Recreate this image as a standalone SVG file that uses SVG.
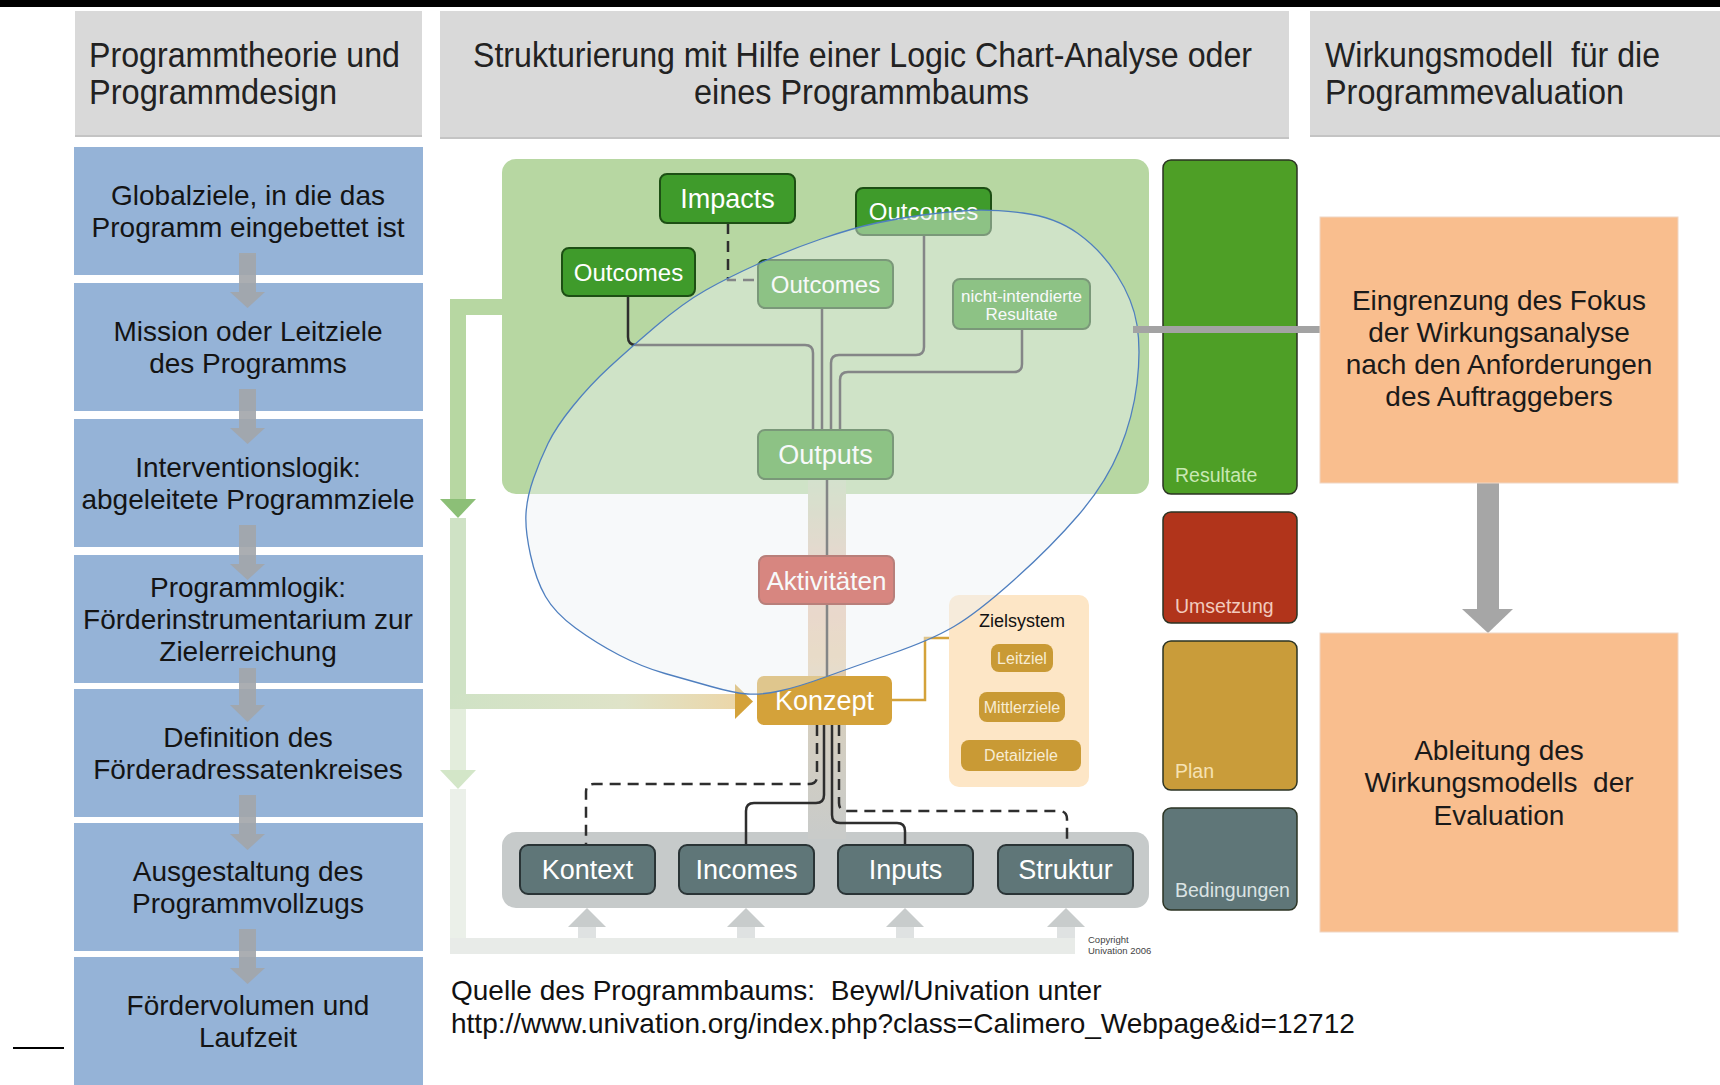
<svg xmlns="http://www.w3.org/2000/svg" width="1720" height="1085" viewBox="0 0 1720 1085">
<defs>
<style>
text { font-family: "Liberation Sans", Arial, sans-serif; }
.hdr { fill: #d9d9d9; }
.hdrt { font-size: 35px; fill: #222; }
.blue { fill: #95b3d7; }
.bt { font-size: 28px; fill: #141414; text-anchor: middle; }
.garr { fill: #a3a6aa; }
.dg { fill: #3f9b2b; stroke: #1d4f14; stroke-width: 2; }
.nt { fill: #ffffff; text-anchor: middle; }
.slate { fill: #5f7678; stroke: #2a3436; stroke-width: 2; }
.ln { fill: none; stroke: #2e2e2e; stroke-width: 2.5; }
.dash { stroke-dasharray: 11 7; }
.bar { stroke: #2b3323; stroke-width: 1.5; }
.barl { font-size: 19.5px; }
.or { fill: #f9be8e; stroke: #efd6c4; stroke-width: 1; }
.ort { font-size: 28px; fill: #1a1a1a; text-anchor: middle; }
.zb { fill: #c99a35; }
.zt { font-size: 16px; fill: #f8ecd2; text-anchor: middle; }
.uparr { fill: #c8cccc; }
.upsh { fill: #dfe2e2; }
</style>
<linearGradient id="trunk" x1="0" y1="479" x2="0" y2="832" gradientUnits="userSpaceOnUse">
<stop offset="0" stop-color="#bfd4ad"/>
<stop offset="0.28" stop-color="#e6bfb0"/>
<stop offset="0.5" stop-color="#e4c9a4"/>
<stop offset="0.68" stop-color="#d6cfbf"/>
<stop offset="1" stop-color="#c9cbc9"/>
</linearGradient>
<linearGradient id="kband" x1="450" y1="0" x2="740" y2="0" gradientUnits="userSpaceOnUse">
<stop offset="0" stop-color="#cfe2c5"/>
<stop offset="0.6" stop-color="#dfe3c8"/>
<stop offset="1" stop-color="#ecd6a8"/>
</linearGradient>
</defs>
<rect x="0" y="0" width="1720" height="1085" fill="#ffffff"/>
<rect x="0" y="0" width="1720" height="7" fill="#000000"/>
<line x1="13" y1="1048" x2="64" y2="1048" stroke="#000" stroke-width="2"/>

<!-- headers -->
<g id="header-programmtheorie">
<rect class="hdr" x="75" y="11" width="347" height="126"/>
<rect x="75" y="135" width="347" height="2" fill="#c4c4c4"/>
<text class="hdrt" x="89" y="67" textLength="311" lengthAdjust="spacingAndGlyphs">Programmtheorie und</text>
<text class="hdrt" x="89" y="104" textLength="248" lengthAdjust="spacingAndGlyphs">Programmdesign</text>
</g>
<g id="header-strukturierung">
<rect class="hdr" x="440" y="11" width="849" height="128"/>
<rect x="440" y="137" width="849" height="2" fill="#c4c4c4"/>
<text class="hdrt" x="473" y="67" textLength="779" lengthAdjust="spacingAndGlyphs">Strukturierung mit Hilfe einer Logic Chart-Analyse oder</text>
<text class="hdrt" x="694" y="104" textLength="335" lengthAdjust="spacingAndGlyphs">eines Programmbaums</text>
</g>
<g id="header-wirkungsmodell">
<rect class="hdr" x="1310" y="11" width="410" height="126"/>
<rect x="1310" y="135" width="410" height="2" fill="#c4c4c4"/>
<text class="hdrt" x="1325" y="67" xml:space="preserve" textLength="335" lengthAdjust="spacingAndGlyphs">Wirkungsmodell  für die</text>
<text class="hdrt" x="1325" y="104" textLength="299" lengthAdjust="spacingAndGlyphs">Programmevaluation</text>
</g>

<!-- left blue column -->
<g id="box-globalziele">
<rect class="blue" x="74" y="147" width="349" height="128"/>
<text class="bt" x="248" y="205">Globalziele, in die das</text>
<text class="bt" x="248" y="237">Programm eingebettet ist</text>
</g>
<g id="box-mission">
<rect class="blue" x="74" y="283" width="349" height="128"/>
<text class="bt" x="248" y="341">Mission oder Leitziele</text>
<text class="bt" x="248" y="373">des Programms</text>
</g>
<g id="box-interventionslogik">
<rect class="blue" x="74" y="419" width="349" height="128"/>
<text class="bt" x="248" y="477">Interventionslogik:</text>
<text class="bt" x="248" y="509">abgeleitete Programmziele</text>
</g>
<g id="box-programmlogik">
<rect class="blue" x="74" y="555" width="349" height="128"/>
<text class="bt" x="248" y="597">Programmlogik:</text>
<text class="bt" x="248" y="629">Förderinstrumentarium zur</text>
<text class="bt" x="248" y="661">Zielerreichung</text>
</g>
<g id="box-definition">
<rect class="blue" x="74" y="689" width="349" height="128"/>
<text class="bt" x="248" y="747">Definition des</text>
<text class="bt" x="248" y="779">Förderadressatenkreises</text>
</g>
<g id="box-ausgestaltung">
<rect class="blue" x="74" y="823" width="349" height="128"/>
<text class="bt" x="248" y="881">Ausgestaltung des</text>
<text class="bt" x="248" y="913">Programmvollzugs</text>
</g>
<g id="box-foerdervolumen">
<rect class="blue" x="74" y="957" width="349" height="128"/>
<text class="bt" x="248" y="1015">Fördervolumen und</text>
<text class="bt" x="248" y="1047">Laufzeit</text>
</g>

<g id="left-arrows" opacity="0.9">
<rect class="garr" x="239" y="253" width="17" height="40"/><polygon class="garr" points="230,292 265,292 247.5,308"/>
<rect class="garr" x="239" y="389" width="17" height="40"/><polygon class="garr" points="230,428 265,428 247.5,444"/>
<rect class="garr" x="239" y="525" width="17" height="40"/><polygon class="garr" points="230,564 265,564 247.5,580"/>
<rect class="garr" x="239" y="668" width="17" height="38"/><polygon class="garr" points="230,705 265,705 247.5,722"/>
<rect class="garr" x="239" y="795" width="17" height="40"/><polygon class="garr" points="230,834 265,834 247.5,850"/>
<rect class="garr" x="239" y="929" width="17" height="40"/><polygon class="garr" points="230,968 265,968 247.5,984"/>
</g>

<!-- center: background panels -->
<g id="panel-resultate-area">
<rect x="502" y="159" width="647" height="335" rx="14" fill="#b7d7a2"/>
</g>
<g id="panel-bedingungen-area">
<rect x="502" y="832" width="647" height="76" rx="14" fill="#c6caca"/>
</g>

<!-- flow bands / connectors -->
<g id="connectors">
<rect x="808" y="479" width="38" height="360" fill="url(#trunk)"/>
<rect x="450" y="299" width="52" height="16" fill="#b7d7a2"/>
<rect x="450" y="299" width="16" height="200" fill="#b7d7a2"/>
<polygon points="440,499 476,499 458,518" fill="#8cbf77"/>
<rect x="450" y="518" width="16" height="191" fill="#cfe2c5"/>
<rect x="450" y="694" width="286" height="15" fill="url(#kband)"/>
<polygon points="735,684 735,719 753,701.5" fill="#d4a23a"/>
<rect x="450" y="709" width="16" height="61" fill="#e3eddc"/>
<polygon points="440,770 476,770 458,789" fill="#d3e6c8"/>
<rect x="450" y="789" width="16" height="165" fill="#ebf0e9"/>
<rect x="450" y="938" width="625" height="16" fill="#e8ebe8"/>
<rect class="upsh" x="578" y="926" width="18" height="12"/><polygon class="uparr" points="568,927 606,927 587,908"/>
<rect class="upsh" x="737" y="926" width="18" height="12"/><polygon class="uparr" points="727,927 765,927 746,908"/>
<rect class="upsh" x="896" y="926" width="18" height="12"/><polygon class="uparr" points="886,927 924,927 905,908"/>
<rect class="upsh" x="1057" y="926" width="18" height="12"/><polygon class="uparr" points="1047,927 1085,927 1066,908"/>

<path class="ln" d="M628,296 V337 Q628,345 636,345 H805 Q813,345 813,353 V430"/>
<path class="ln" d="M822,308 V430"/>
<path class="ln" d="M924,235 V347 Q924,355 916,355 H839 Q831,355 831,363 V430"/>
<path class="ln" d="M1022,329 V364 Q1022,372 1014,372 H848 Q840,372 840,380 V430"/>
<path class="ln dash" d="M728,223 V280 H758"/>
<path class="ln" d="M827,479 V556"/>
<path class="ln" d="M827,604 V676"/>
<path d="M892,700 H925 V638 H949" fill="none" stroke="#d4a23a" stroke-width="2.5"/>
<path class="ln dash" d="M817,725 V776 Q817,784 809,784 H594 Q586,784 586,792 V845"/>
<path class="ln" d="M824,725 V795 Q824,803 816,803 H754 Q746,803 746,811 V845"/>
<path class="ln" d="M832,725 V815 Q832,823 840,823 H897 Q905,823 905,831 V845"/>
<path class="ln dash" d="M839,725 V803 Q839,811 847,811 H1059 Q1067,811 1067,819 V845"/>
<rect x="1477" y="483" width="22" height="127" fill="#a6a6a6"/>
<polygon points="1462,609 1513,609 1488,633" fill="#a6a6a6"/>
</g>

<!-- center nodes -->
<g id="node-impacts">
<rect class="dg" x="660" y="174" width="135" height="49" rx="7"/>
<text class="nt" x="727.5" y="208" font-size="27">Impacts</text>
</g>
<g id="node-outcomes-top">
<rect class="dg" x="856" y="188" width="135" height="47" rx="7"/>
<text class="nt" x="923.5" y="220" font-size="24">Outcomes</text>
</g>
<g id="node-outcomes-left">
<rect class="dg" x="562" y="248" width="133" height="48" rx="7"/>
<text class="nt" x="628.5" y="280.5" font-size="24">Outcomes</text>
</g>
<g id="node-outcomes-mid">
<rect class="dg" x="758" y="260" width="135" height="48" rx="7"/>
<text class="nt" x="825.5" y="292.5" font-size="24">Outcomes</text>
</g>
<g id="node-nicht-intendierte">
<rect class="dg" x="953" y="279" width="137" height="50" rx="7"/>
<text class="nt" x="1021.5" y="302" font-size="17">nicht-intendierte</text>
<text class="nt" x="1021.5" y="320" font-size="17">Resultate</text>
</g>
<g id="node-outputs">
<rect class="dg" x="758" y="430" width="135" height="49" rx="7"/>
<text class="nt" x="825.5" y="464" font-size="27">Outputs</text>
</g>
<g id="node-aktivitaeten">
<rect x="759" y="556" width="135" height="48" rx="7" fill="#c52f22" stroke="#8c2116" stroke-width="2"/>
<text class="nt" x="826.5" y="589.5" font-size="26">Aktivitäten</text>
</g>
<g id="node-konzept">
<rect x="757" y="676" width="135" height="49" rx="7" fill="#d4a23a"/>
<text class="nt" x="824.5" y="710" font-size="27">Konzept</text>
</g>
<g id="node-zielsystem">
<rect x="949" y="595" width="140" height="192" rx="10" fill="#fde6c6"/>
<text x="1022" y="627" font-size="18" fill="#111" text-anchor="middle">Zielsystem</text>
<rect class="zb" x="991" y="644" width="62" height="28" rx="8"/>
<text class="zt" x="1022" y="664">Leitziel</text>
<rect class="zb" x="979" y="692" width="86" height="30" rx="8"/>
<text class="zt" x="1022" y="713">Mittlerziele</text>
<rect class="zb" x="961" y="740" width="120" height="31" rx="8"/>
<text class="zt" x="1021" y="761">Detailziele</text>
</g>
<g id="node-kontext">
<rect class="slate" x="520" y="845" width="135" height="49" rx="8"/>
<text class="nt" x="587.5" y="879" font-size="27">Kontext</text>
</g>
<g id="node-incomes">
<rect class="slate" x="679" y="845" width="135" height="49" rx="8"/>
<text class="nt" x="746.5" y="879" font-size="27">Incomes</text>
</g>
<g id="node-inputs">
<rect class="slate" x="838" y="845" width="135" height="49" rx="8"/>
<text class="nt" x="905.5" y="879" font-size="27">Inputs</text>
</g>
<g id="node-struktur">
<rect class="slate" x="998" y="845" width="135" height="49" rx="8"/>
<text class="nt" x="1065.5" y="879" font-size="27">Struktur</text>
</g>

<!-- lasso highlight -->
<path id="lasso" d="M526,513.5 Q527,497 533.5,478.5 Q540,460 548,443.5 Q556,427 573,406 Q590,385 609,367.5 Q628,350 655.5,326.5 Q683,303 706,290 Q729,277 759,263.5 Q789,250 821,239 Q853,228 876.5,223 Q900,218 922.5,215 Q945,212 968,210.5 Q991,209 1023,213 Q1055,217 1078,233.5 Q1101,250 1117,275 Q1133,300 1137,325 Q1141,350 1137,383.5 Q1133,417 1119.5,450 Q1106,483 1078.5,515 Q1051,547 1014,580 Q977,613 954,626.5 Q931,640 892,653.5 Q853,667 825.5,677 Q798,687 779.5,691 Q761,695 747.5,694 Q734,693 711,686.5 Q688,680 665,673.5 Q642,667 619,655 Q596,643 575.5,628 Q555,613 545.5,596.5 Q536,580 530.5,555 Q525,530 526,513.5 Z" fill="#eef1f4" fill-opacity="0.45" stroke="#4f7fbf" stroke-width="1.3"/>

<text x="1088" y="943" font-size="9.5" fill="#444">Copyright</text>
<text x="1088" y="954" font-size="9.5" fill="#444">Univation 2006</text>

<!-- right level bars -->
<g id="bar-resultate">
<rect class="bar" x="1163" y="160" width="134" height="334" rx="8" fill="#4e9f26"/>
<text class="barl" x="1175" y="482" fill="#c9e8b4">Resultate</text>
</g>
<g id="bar-umsetzung">
<rect class="bar" x="1163" y="512" width="134" height="111" rx="8" fill="#b1341b"/>
<text class="barl" x="1175" y="613" fill="#f2cabd">Umsetzung</text>
</g>
<g id="bar-plan">
<rect class="bar" x="1163" y="641" width="134" height="149" rx="8" fill="#c99c3a"/>
<text class="barl" x="1175" y="778" fill="#f6e2b4">Plan</text>
</g>
<g id="bar-bedingungen">
<rect class="bar" x="1163" y="808" width="134" height="102" rx="8" fill="#5f7678"/>
<text class="barl" x="1175" y="897" fill="#dbe3e3">Bedingungen</text>
</g>
<rect id="focus-link" x="1133" y="326" width="187" height="7" fill="#a3a3a3"/>

<!-- right orange boxes -->
<g id="box-eingrenzung">
<rect class="or" x="1320" y="217" width="358" height="266"/>
<text class="ort" x="1499" y="310">Eingrenzung des Fokus</text>
<text class="ort" x="1499" y="342">der Wirkungsanalyse</text>
<text class="ort" x="1499" y="374">nach den Anforderungen</text>
<text class="ort" x="1499" y="406">des Auftraggebers</text>
</g>
<g id="box-ableitung">
<rect class="or" x="1320" y="633" width="358" height="299"/>
<text class="ort" x="1499" y="760">Ableitung des</text>
<text class="ort" x="1499" y="792" xml:space="preserve">Wirkungsmodells  der</text>
<text class="ort" x="1499" y="825">Evaluation</text>
</g>

<!-- source note -->
<text x="451" y="1000" font-size="28" fill="#111" xml:space="preserve">Quelle des Programmbaums:  Beywl/Univation unter</text>
<text x="451" y="1033" font-size="28" fill="#111">http://www.univation.org/index.php?class=Calimero_Webpage&amp;id=12712</text>
</svg>
